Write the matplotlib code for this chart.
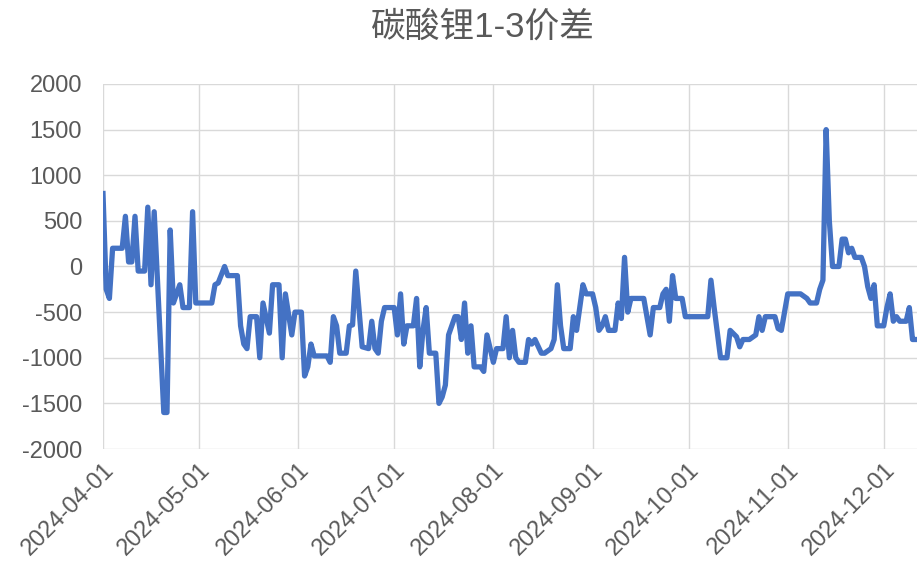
import numpy as np
import pandas as pd
import matplotlib
matplotlib.use('Agg')
import matplotlib.pyplot as plt
import matplotlib.dates as mdates

# days after 2024-04-01 and the 1-3 spread
days = [0, 1, 2, 3, 6, 7, 8, 9, 10, 11, 13, 14, 15, 16, 19, 20, 21, 22, 24, 25,
        27, 28, 29, 34, 35, 36, 38, 39, 42, 43, 44, 45, 46, 48, 49, 50, 52, 53,
        55, 56, 57, 59, 60, 62, 63, 64, 65, 66, 70, 71, 72, 73, 74, 76, 77, 78,
        79, 81, 83, 84, 85, 86, 87, 88, 91, 92, 93, 94, 95, 97, 98, 99, 100,
        101, 102, 104, 105, 106, 107, 108, 110, 111, 112, 113, 114, 115, 116,
        118, 119, 120, 122, 123, 125, 126, 127, 128, 129, 130, 132, 133, 134,
        135, 137, 138, 140, 141, 142, 143, 144, 146, 147, 148, 150, 151, 153,
        154, 155, 156, 157, 158, 160, 161, 162, 163, 164, 165, 169, 170, 171,
        172, 174, 175, 176, 177, 178, 179, 181, 182, 189, 190, 191, 193, 195,
        196, 198, 199, 200, 202, 204, 205, 206, 207, 210, 211, 212, 214, 218,
        220, 221, 223, 224, 225, 226, 227, 228, 230, 231, 232, 233, 234, 235,
        237, 238, 239, 240, 241, 242, 244, 245, 246, 247, 248, 249, 251, 252,
        253, 254]
spread = [800, -250, -350, 200, 200, 550, 50, 50, 550, -50, -50, 650, -200,
          600, -1600, -1600, 400, -400, -200, -450, -450, 600, -400, -400,
          -200, -180, 0, -100, -100, -650, -850, -900, -550, -550, -1000,
          -400, -730, -200, -200, -1000, -300, -750, -500, -500, -1200, -1100,
          -850, -980, -980, -1050, -550, -650, -950, -950, -650, -640, -50,
          -880, -900, -600, -900, -950, -600, -450, -450, -750, -300, -850,
          -650, -650, -350, -1100, -700, -450, -950, -950, -1500, -1430,
          -1300, -750, -550, -550, -800, -400, -950, -650, -1100, -1100,
          -1150, -750, -1050, -900, -900, -550, -1000, -700, -1000, -1050,
          -1050, -800, -850, -800, -950, -950, -900, -800, -200, -650, -900,
          -900, -550, -700, -200, -300, -300, -450, -700, -650, -550, -700,
          -700, -400, -570, 100, -500, -350, -350, -550, -750, -450, -450,
          -300, -250, -600, -100, -350, -350, -550, -550, -150, -450, -1000,
          -1000, -700, -770, -880, -800, -800, -750, -550, -700, -550, -550,
          -680, -700, -300, -300, -350, -400, -400, -250, -150, 1500, 500, 0,
          0, 300, 300, 150, 200, 100, 100, 0, -220, -350, -200, -650, -650,
          -450, -300, -600, -550, -600, -600, -450, -800, -800]

start = pd.Timestamp('2024-04-01')
dates = start + pd.to_timedelta(days, unit='D')
month_ticks = pd.date_range('2024-04-01', '2024-12-01', freq='MS')

plt.rcParams['axes.unicode_minus'] = False
grey = '#595959'
fig = plt.figure(figsize=(9.17, 5.66), dpi=100)
ax = fig.add_axes([103 / 917, 1 - 449 / 566, 1 - 103 / 917, (449 - 84) / 566])
ax.plot(dates, spread, color='#4472C4', lw=3.8, solid_joinstyle='round')

ax.set_ylim(-2000, 2000)
ax.set_yticks(np.arange(-2000, 2001, 500))
ax.set_xlim(start, start + pd.Timedelta(days=254.4))
ax.set_xticks(month_ticks)
ax.xaxis.set_major_formatter(mdates.DateFormatter('%Y-%m-%d'))
ax.grid(True, color='#d9d9d9', lw=1.0)
ax.set_axisbelow(True)
for s in ax.spines.values():
    s.set_visible(False)
ax.tick_params(axis='y', length=0, colors=grey, labelsize=17, pad=15)
ax.tick_params(axis='x', length=0, colors=grey, labelsize=17, pad=7)
for lab in ax.get_yticklabels():
    lab.set_family('Liberation Sans')
for lab in ax.get_xticklabels():
    lab.set_family('Liberation Sans')
    lab.set_rotation(45)
    lab.set_ha('right')
    lab.set_rotation_mode('anchor')

fig.text(483 / 917, 1 - 27 / 566, '碳酸锂1-3价差', ha='center', va='center',
         fontsize=25, color=grey, family=['Liberation Sans', 'Noto Sans CJK SC'])

fig.savefig('out.png', dpi=100)
